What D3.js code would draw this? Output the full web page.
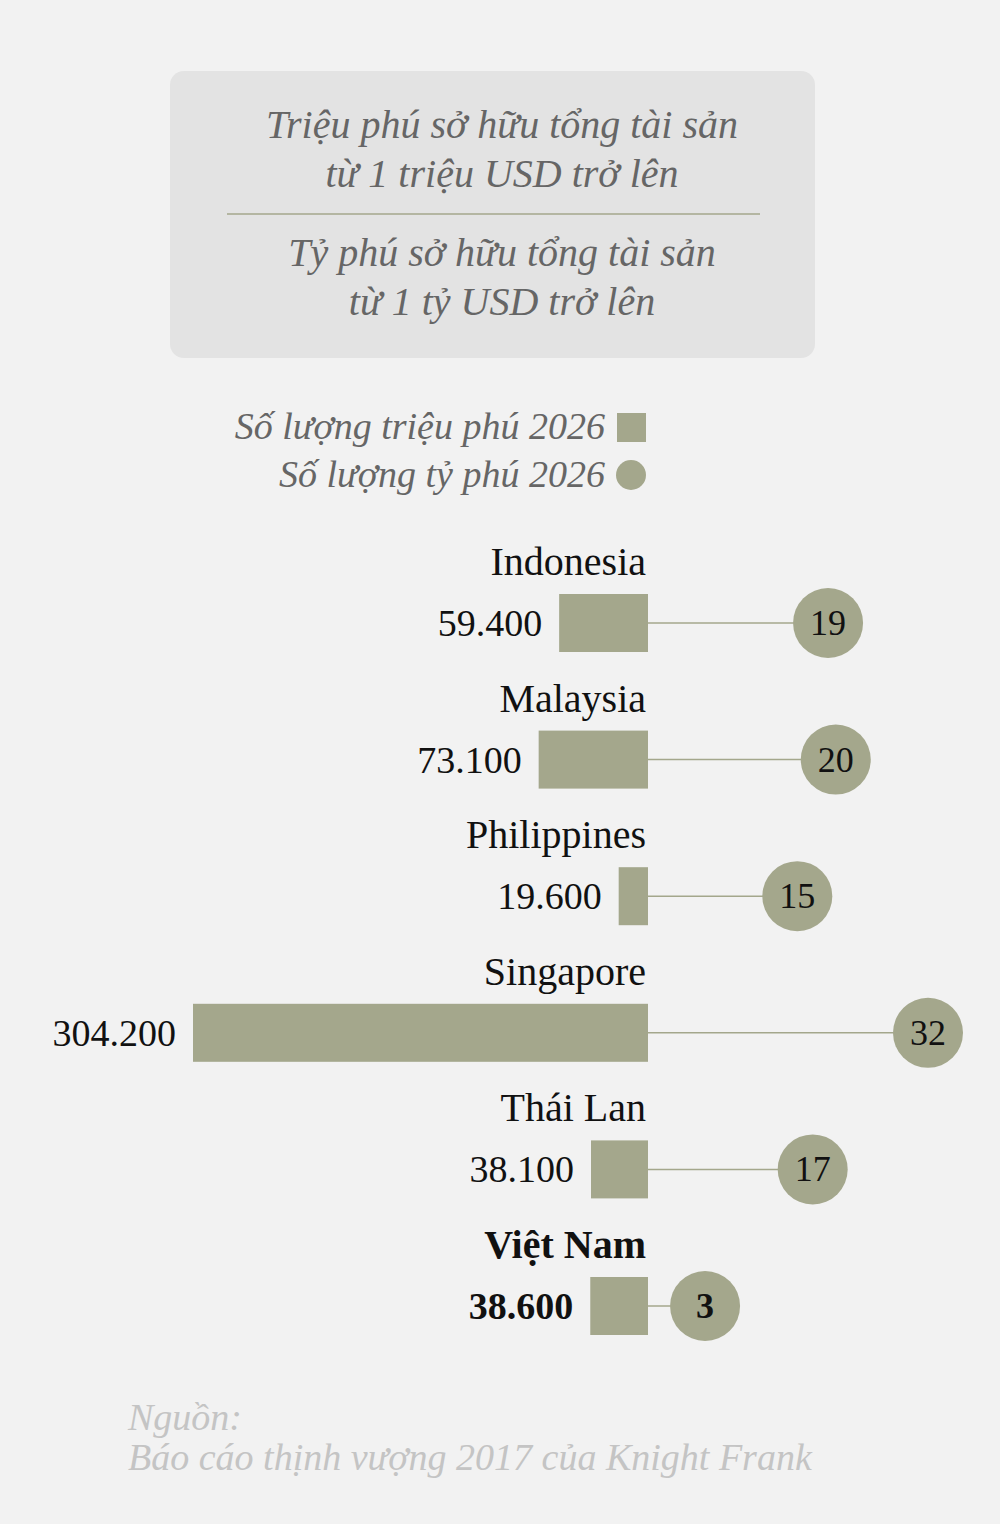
<!DOCTYPE html>
<html><head><meta charset="utf-8">
<script src="https://cdn.jsdelivr.net/npm/d3@7"></script>
<style>body{margin:0;background:#f2f2f2}</style></head>
<body><svg id="c" width="1000" height="1524"></svg>
<script>
const countries = ["Indonesia","Malaysia","Philippines","Singapore","Thái Lan","Việt Nam"];
const millionaires = [59400,73100,19600,304200,38100,38600];
const billionaires = [19,20,15,32,17,3];
const valueLabels = ["59.400","73.100","19.600","304.200","38.100","38.600"];
const highlight = "Việt Nam";

const svg = d3.select("#c");
const F = "'Liberation Serif','DejaVu Serif',serif";
const col = "#a4a78c";
svg.append("rect").attr("width",1000).attr("height",1524).attr("fill","#f2f2f2");

// header box
svg.append("rect").attr("x",170).attr("y",71).attr("width",645).attr("height",287).attr("rx",14).attr("fill","#e3e3e3");
const hdr = [["Triệu phú sở hữu tổng tài sản",138],["từ 1 triệu USD trở lên",187],["Tỷ phú sở hữu tổng tài sản",266],["từ 1 tỷ USD trở lên",315]];
hdr.forEach(([t,y])=>svg.append("text").attr("x",502).attr("y",y).attr("text-anchor","middle")
  .attr("font-family",F).attr("font-style","italic").attr("font-size",40).attr("fill","#666").text(t));
svg.append("line").attr("x1",227).attr("x2",760).attr("y1",214).attr("y2",214).attr("stroke","#a4a78c").attr("stroke-width",1.5);

// legend
svg.append("text").attr("x",605).attr("y",439).attr("text-anchor","end").attr("font-family",F).attr("font-style","italic").attr("font-size",38).attr("fill","#666").text("Số lượng triệu phú 2026");
svg.append("rect").attr("x",617).attr("y",413).attr("width",29).attr("height",29).attr("fill",col);
svg.append("text").attr("x",605).attr("y",487).attr("text-anchor","end").attr("font-family",F).attr("font-style","italic").attr("font-size",38).attr("fill","#666").text("Số lượng tỷ phú 2026");
svg.append("circle").attr("cx",631).attr("cy",475).attr("r",15).attr("fill",col);

const x0 = 648;
const xb = d3.scaleLinear().domain([0,304200]).range([0,455]);
const xc = d3.scaleLinear().domain([0,32]).range([682,928]);
const y = d3.scalePoint().domain(countries).range([623,1306]);

countries.forEach((c,i)=>{
  const cy = y(c), bold = c===highlight;
  const w = xb(millionaires[i]);
  svg.append("text").attr("x",646).attr("y",cy-48).attr("text-anchor","end").attr("font-family",F)
    .attr("font-size",40).attr("font-weight",bold?"bold":"normal").attr("fill","#111").text(c);
  svg.append("line").attr("x1",x0).attr("x2",xc(billionaires[i])).attr("y1",cy).attr("y2",cy).attr("stroke","#a4a78c").attr("stroke-width",1.5);
  svg.append("rect").attr("x",x0-w).attr("y",cy-29).attr("width",w).attr("height",58).attr("fill",col);
  svg.append("text").attr("x",x0-w-17).attr("y",cy+13).attr("text-anchor","end").attr("font-family",F)
    .attr("font-size",38).attr("font-weight",bold?"bold":"normal").attr("fill","#111").text(valueLabels[i]);
  svg.append("circle").attr("cx",xc(billionaires[i])).attr("cy",cy).attr("r",35).attr("fill",col);
  svg.append("text").attr("x",xc(billionaires[i])).attr("y",cy+12).attr("text-anchor","middle").attr("font-family",F)
    .attr("font-size",36).attr("font-weight",bold?"bold":"normal").attr("fill","#111").text(billionaires[i]);
});

svg.append("text").attr("x",128).attr("y",1430).attr("font-family",F).attr("font-style","italic").attr("font-size",38).attr("fill","#c4c4c4").text("Nguồn:");
svg.append("text").attr("x",128).attr("y",1470).attr("font-family",F).attr("font-style","italic").attr("font-size",38).attr("fill","#c4c4c4").text("Báo cáo thịnh vượng 2017 của Knight Frank");
</script></body></html>
